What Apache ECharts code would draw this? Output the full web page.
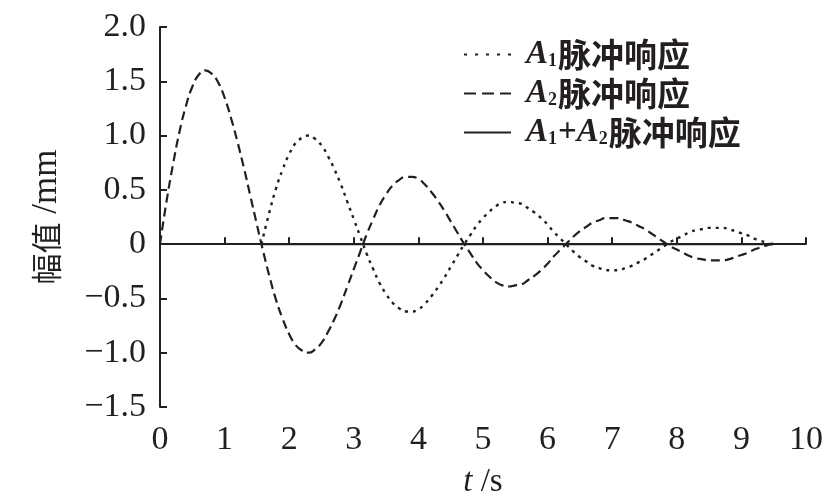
<!DOCTYPE html>
<html><head><meta charset="utf-8">
<script src="https://cdn.jsdelivr.net/npm/echarts@6/dist/echarts.min.js"></script>
<style>html,body{margin:0;padding:0;background:#fff}#c{width:840px;height:497px}</style>
</head><body><div id="c"></div>
<script>
// time (s)
const tValues = [0,0.1,0.2,0.3,0.4,0.5,0.6,0.7,0.8,0.9,1.0,1.1,1.2,1.3,1.4,1.5,1.57,
  1.7,1.8,1.9,2.0,2.1,2.2,2.3,2.4,2.5,2.6,2.7,2.8,2.9,3.0,3.1,3.2,3.3,3.4,3.5,3.6,3.7,3.8,3.9,
  4.0,4.1,4.2,4.3,4.4,4.5,4.6,4.7,4.8,4.9,5.0,5.1,5.2,5.3,5.4,5.5,5.6,5.7,5.8,5.9,
  6.0,6.1,6.2,6.3,6.4,6.5,6.6,6.7,6.8,6.9,7.0,7.1,7.2,7.3,7.4,7.5,7.6,7.7,7.8,7.9,
  8.0,8.1,8.2,8.3,8.4,8.5,8.6,8.7,8.8,8.9,9.0,9.1,9.2,9.3,9.4,9.5];
// A2 impulse response (mm)
const a2Values = [0,0.39,0.73,1.03,1.27,1.45,1.56,1.60,1.57,1.49,1.35,1.16,0.94,0.70,0.44,0.18,0,
  -0.31,-0.52,-0.69,-0.83,-0.93,-0.98,-1.00,-0.97,-0.91,-0.81,-0.69,-0.55,-0.39,-0.23,-0.07,0.09,0.23,0.36,0.46,0.54,0.59,0.62,0.62,
  0.60,0.55,0.48,0.40,0.31,0.21,0.11,0.01,-0.08,-0.17,-0.24,-0.30,-0.35,-0.38,-0.39,-0.38,-0.37,-0.33,-0.29,-0.24,
  -0.18,-0.11,-0.05,0.01,0.07,0.12,0.16,0.20,0.22,0.24,0.24,0.24,0.22,0.20,0.17,0.14,0.10,0.06,0.02,-0.02,
  -0.05,-0.08,-0.11,-0.13,-0.14,-0.15,-0.15,-0.15,-0.14,-0.12,-0.10,-0.08,-0.05,-0.03,-0.01,0.01];
// A1 impulse response (mm), starts at t≈1.57
const a1Values = [null,null,null,null,null,null,null,null,null,null,null,null,null,null,null,null,0,
  0.31,0.52,0.69,0.83,0.93,0.98,1.00,0.97,0.91,0.81,0.69,0.55,0.39,0.23,0.07,-0.09,-0.23,-0.36,-0.46,-0.54,-0.59,-0.62,-0.62,
  -0.60,-0.55,-0.48,-0.40,-0.31,-0.21,-0.11,-0.01,0.08,0.17,0.24,0.30,0.35,0.38,0.39,0.38,0.37,0.33,0.29,0.24,
  0.18,0.11,0.05,-0.01,-0.07,-0.12,-0.16,-0.20,-0.22,-0.24,-0.24,-0.24,-0.22,-0.20,-0.17,-0.14,-0.10,-0.06,-0.02,0.02,
  0.05,0.08,0.11,0.13,0.14,0.15,0.15,0.15,0.14,0.12,0.10,0.08,0.05,0.03,0.01,-0.01];
// A1 + A2 impulse response (mm)
const sumValues = [null,null,null,null,null,null,null,null,null,null,null,null,null,null,null,null,0,
  0,0,0,0,0,0,0,0,0,0,0,0,0,0,0,0,0,0,0,0,0,0,0,
  0,0,0,0,0,0,0,0,0,0,0,0,0,0,0,0,0,0,0,0,
  0,0,0,0,0,0,0,0,0,0,0,0,0,0,0,0,0,0,0,0,
  0,0,0,0,0,0,0,0,0,0,0,0,0,0,0,0];
const seriesNames = ['A1脉冲响应','A2脉冲响应','A1+A2脉冲响应'];
const legendLabels = ['{i|A}{s|1}{c|脉冲响应}','{i|A}{s|2}{c|脉冲响应}','{i|A}{s|1}{p|+}{i|A}{s|2}{c|脉冲响应}'];
const yTickLabels = ['−1.5','−1.0','−0.5','0','0.5','1.0','1.5','2.0'];
const xTickLabels = ['0','1','2','3','4','5','6','7','8','9','10'];

const ink = '#231f20';
const serif = '"Liberation Serif", "Times New Roman", serif';
const cjk = '"Noto Sans CJK SC", sans-serif';
function pairs(vals){ const out=[]; tValues.forEach((t,i)=>{ if(vals[i]!==null) out.push([t, vals[i]]); }); return out; }

const chart = echarts.init(document.getElementById('c'), null, {renderer:'canvas'});
chart.setOption({
  animation:false,
  backgroundColor:'#fff',
  grid:{left:160,right:34,top:27,bottom:90,containLabel:false,outerBoundsMode:'none'},
  legend:{
    orient:'vertical', left:458, top:33, itemWidth:47, itemHeight:16, itemGap:6,
    itemStyle:{opacity:0},
    data:[
      {name:seriesNames[0], lineStyle:{type:[3,8]}},
      {name:seriesNames[1], lineStyle:{type:[12,6]}},
      {name:seriesNames[2], lineStyle:{type:'solid'}}
    ],
    formatter:(name)=>legendLabels[seriesNames.indexOf(name)],
    textStyle:{
      color:ink, fontFamily:cjk, fontSize:33, fontWeight:'bold', padding:[0,0,0,10], lineHeight:32,
      rich:{
        c:{fontFamily:cjk, fontSize:33, fontWeight:'bold', color:ink, lineHeight:32},
        i:{fontFamily:serif, fontStyle:'italic', fontWeight:'bold', fontSize:33, color:ink, lineHeight:32},
        s:{fontFamily:serif, fontSize:18, fontWeight:'bold', color:ink, verticalAlign:'bottom', lineHeight:32, padding:[12,1,0,0]},
        p:{fontFamily:serif, fontSize:33, fontWeight:'bold', color:ink, lineHeight:32}
      }
    }
  },
  xAxis:{
    type:'value', min:0, max:10, interval:1,
    name:'{i|t}{n| /s}', nameLocation:'middle', nameGap:59,
    nameTextStyle:{rich:{
      i:{fontFamily:serif, fontStyle:'italic', fontSize:33, color:ink},
      n:{fontFamily:serif, fontSize:33, color:ink}
    }},
    axisLine:{show:true, lineStyle:{color:ink, width:2}},
    axisTick:{show:true, inside:true, length:7, lineStyle:{color:ink, width:2}},
    axisLabel:{color:ink, fontFamily:serif, fontSize:34, margin:16,
      formatter:(v)=>xTickLabels[Math.round(v)]},
    splitLine:{show:false}
  },
  yAxis:{
    type:'value', min:-1.5, max:2.0, interval:0.5,
    name:'{c|幅值}{n| /mm}', nameLocation:'middle', nameGap:96, nameRotate:90,
    nameTextStyle:{rich:{
      c:{fontFamily:cjk, fontSize:31, color:ink},
      n:{fontFamily:serif, fontSize:35, color:ink}
    }},
    axisLine:{show:true, onZero:false, lineStyle:{color:ink, width:2}},
    axisTick:{show:true, inside:true, length:7, lineStyle:{color:ink, width:2}},
    axisLabel:{color:ink, fontFamily:serif, fontSize:34, margin:14,
      formatter:(v)=>yTickLabels[Math.round((v+1.5)/0.5)]},
    splitLine:{show:false}
  },
  series:[
    {name:seriesNames[0], type:'line', data:pairs(a1Values), smooth:true, symbol:'none',
      lineStyle:{color:ink, width:2.4, type:[3,5]}, itemStyle:{color:ink}, z:3},
    {name:seriesNames[1], type:'line', data:pairs(a2Values), smooth:true, symbol:'none',
      lineStyle:{color:ink, width:2.2, type:[9,5]}, itemStyle:{color:ink}, z:3},
    {name:seriesNames[2], type:'line', data:pairs(sumValues), smooth:false, symbol:'none',
      lineStyle:{color:ink, width:2.2, type:'solid'}, itemStyle:{color:ink}, z:4}
  ]
});
</script></body></html>
